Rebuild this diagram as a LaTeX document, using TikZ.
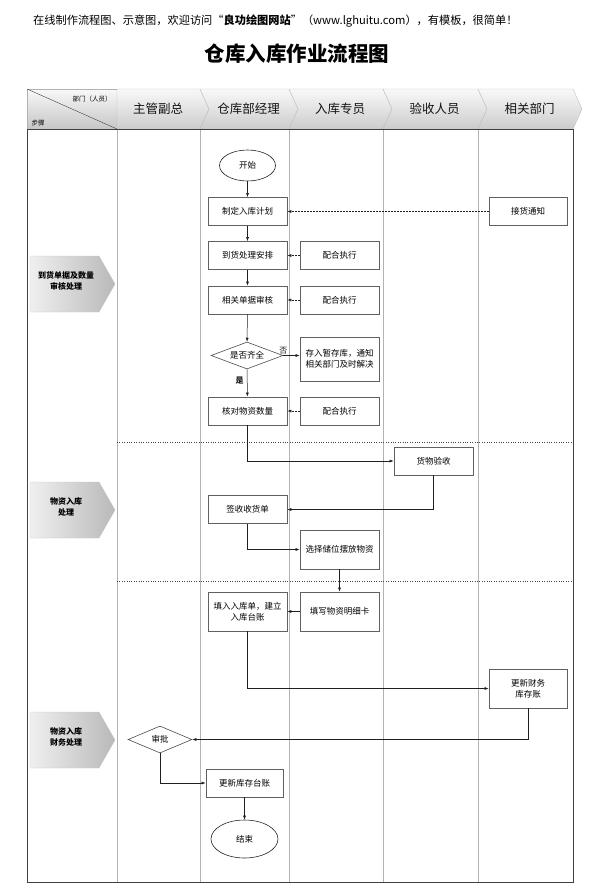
\documentclass[tikz,border=0pt]{standalone}
\usepackage{fontspec}
\setmainfont{Noto Sans CJK SC}
\usetikzlibrary{arrows.meta,shapes.geometric}

\tikzset{
  caja/.style={draw=gray!75!black, line width=0.8pt, fill=white, minimum width=79pt, minimum height=28pt, inner sep=1pt, align=center, font=\fontsize{8.5}{11}\selectfont},
  ovalo/.style={ellipse, draw=gray!30!black, line width=0.6pt, fill=white, minimum width=56pt, minimum height=31pt, inner sep=0pt, font=\fontsize{8.5}{11}\selectfont},
  rombo/.style={diamond, draw=gray!60!black, line width=0.6pt, fill=white, aspect=2.6, minimum width=72pt, minimum height=27pt, inner sep=0pt, font=\fontsize{8.5}{11}\selectfont},
  flecha/.style={-{Latex[length=4pt,width=3pt]}, gray!25!black, line width=0.5pt},
  punteada/.style={flecha, densely dotted},
  etiqueta/.style={font=\bfseries\fontsize{8}{10.5}\selectfont, align=center},
  cabeza/.style={font=\fontsize{12.5}{14}\selectfont, text=gray!15!black}
}

\begin{document}
\begin{tikzpicture}[x=1pt,y=-1pt]
\useasboundingbox (0,0) rectangle (595,894);

% Textos de arriba
\node[anchor=west, inner sep=0pt, font=\fontsize{11.2}{13}\selectfont] (aviso) at (33,21) {在线制作流程图、示意图，欢迎访问“\textbf{良功绘图网站}”（www.lghuitu.com），有模板，很简单！};
\node[font=\bfseries\fontsize{20.5}{24}\selectfont] (titulo) at (297,54) {仓库入库作业流程图};

% Cabecera
\shade[top color=gray!5, bottom color=gray!45, draw=gray!60] (27,89) rectangle (117,129);
\draw[gray!50!black] (27,89) -- (117,129);
\node[font=\fontsize{6.5}{8}\selectfont] (depto) at (92,99) {部门（人员）};
\node[font=\fontsize{6.5}{8}\selectfont] (pasos) at (38,123) {步骤};
\shade[top color=gray!5, bottom color=gray!40, draw=gray!50] (117,89) -- (200,89) -- (209,109) -- (200,129) -- (117,129) -- cycle;
\node[cabeza] (col1) at (158,109) {主管副总};
\foreach \xa/\xb/\nombre in {200/289/仓库部经理, 289/383/入库专员, 383/478/验收人员, 478/573/相关部门}{
  \shade[top color=gray!5, bottom color=gray!40, draw=gray!50] (\xa,89) -- (\xb,89) -- (\xb+9,109) -- (\xb,129) -- (\xa,129) -- (\xa+9,109) -- cycle;
  \node[cabeza] (col\xa) at ({(\xa+\xb)/2+4},109) {\nombre};
}

% Carriles
\foreach \x in {117,200,289,383,478}
  \draw[gray!60] (\x,129) -- (\x,882);
\draw[gray!50!black, line width=0.8pt] (27,129) rectangle (573,882);
\draw[dotted, gray!55!black] (117,442) -- (573,442);
\draw[dotted, gray!55!black] (117,581) -- (573,581);

% Etapas
\foreach \y/\texto in {284/{到货单据及数量\\审核处理}, 510/{物资入库\\处理}, 740/{物资入库\\财务处理}}{
  \shade[left color=gray!12, right color=gray!55, draw=gray!45] (30,\y-28) -- (99,\y-28) -- (115,\y) -- (99,\y+28) -- (30,\y+28) -- cycle;
  \node[etiqueta] (etapa\y) at (66,\y-3) {\texto};
}

% Nodos
\node[ovalo] (inicio) at (247.5,165.5) {开始};
\node[caja] (plan) at (247.5,211.5) {制定入库计划};
\node[caja] (llegada) at (247.5,255.5) {到货处理安排};
\node[caja] (revision) at (247.5,300) {相关单据审核};
\node[rombo] (completo) at (247,355.5) {是否齐全};
\node[caja] (cotejo) at (247.5,411) {核对物资数量};
\node[caja, minimum width=78pt] (noticia) at (528,211.5) {接货通知};
\node[caja] (apoyo1) at (339.5,255.5) {配合执行};
\node[caja] (apoyo2) at (339.5,300) {配合执行};
\node[caja, minimum height=44pt] (temporal) at (339.5,359) {存入暂存库，通知\\相关部门及时解决};
\node[caja] (apoyo3) at (339.5,411) {配合执行};
\node[caja] (recepcion) at (433.5,461) {货物验收};
\node[caja] (firma) at (247.5,509.5) {签收收货单};
\node[caja, minimum height=39pt] (ubicacion) at (339.5,549.5) {选择储位摆放物资};
\node[caja, minimum height=39pt] (ficha) at (339.5,611.5) {填写物资明细卡};
\node[caja, minimum height=39pt] (registro) at (247.5,611.5) {填入入库单，建立\\入库台账};
\node[caja, minimum width=78pt, minimum height=39pt] (finanzas) at (528,688.5) {更新财务\\库存账};
\node[rombo, minimum width=64pt] (aprobar) at (160,739.5) {审批};
\node[caja, minimum width=77pt] (inventario) at (244.5,783) {更新库存台账};
\node[ovalo, minimum width=67pt, minimum height=38pt] (fin) at (244.5,839) {结束};

% Flechas
\draw[flecha] (inicio) -- (plan);
\draw[flecha] (plan) -- (llegada);
\draw[flecha] (llegada) -- (revision);
\draw[flecha] (revision) -- (completo);
\draw[flecha] (completo) -- node[left, pos=0.4, font=\bfseries\fontsize{8}{10}\selectfont] {是} (cotejo);
\draw[flecha] (completo.east) -- node[pos=0, anchor=south, inner sep=1.5pt, font=\fontsize{8}{10}\selectfont] {否} (completo.east -| temporal.west);
\draw[punteada] (noticia) -- (plan);
\draw[punteada] (apoyo1) -- (llegada);
\draw[punteada] (apoyo2) -- (revision);
\draw[punteada] (apoyo3) -- (cotejo);
\draw[flecha] (cotejo.south) |- (recepcion.west);
\draw[flecha] (recepcion.south) |- (firma.east);
\draw[flecha] (firma.south) |- (ubicacion.west);
\draw[flecha] (ubicacion) -- (ficha);
\draw[flecha] (ficha) -- (registro);
\draw[flecha] (registro.south) |- (finanzas.west);
\draw[flecha] (finanzas.south) |- (aprobar.east);
\draw[flecha] (aprobar.south) |- (inventario.west);
\draw[flecha] (inventario) -- (fin);
\end{tikzpicture}
\end{document}
